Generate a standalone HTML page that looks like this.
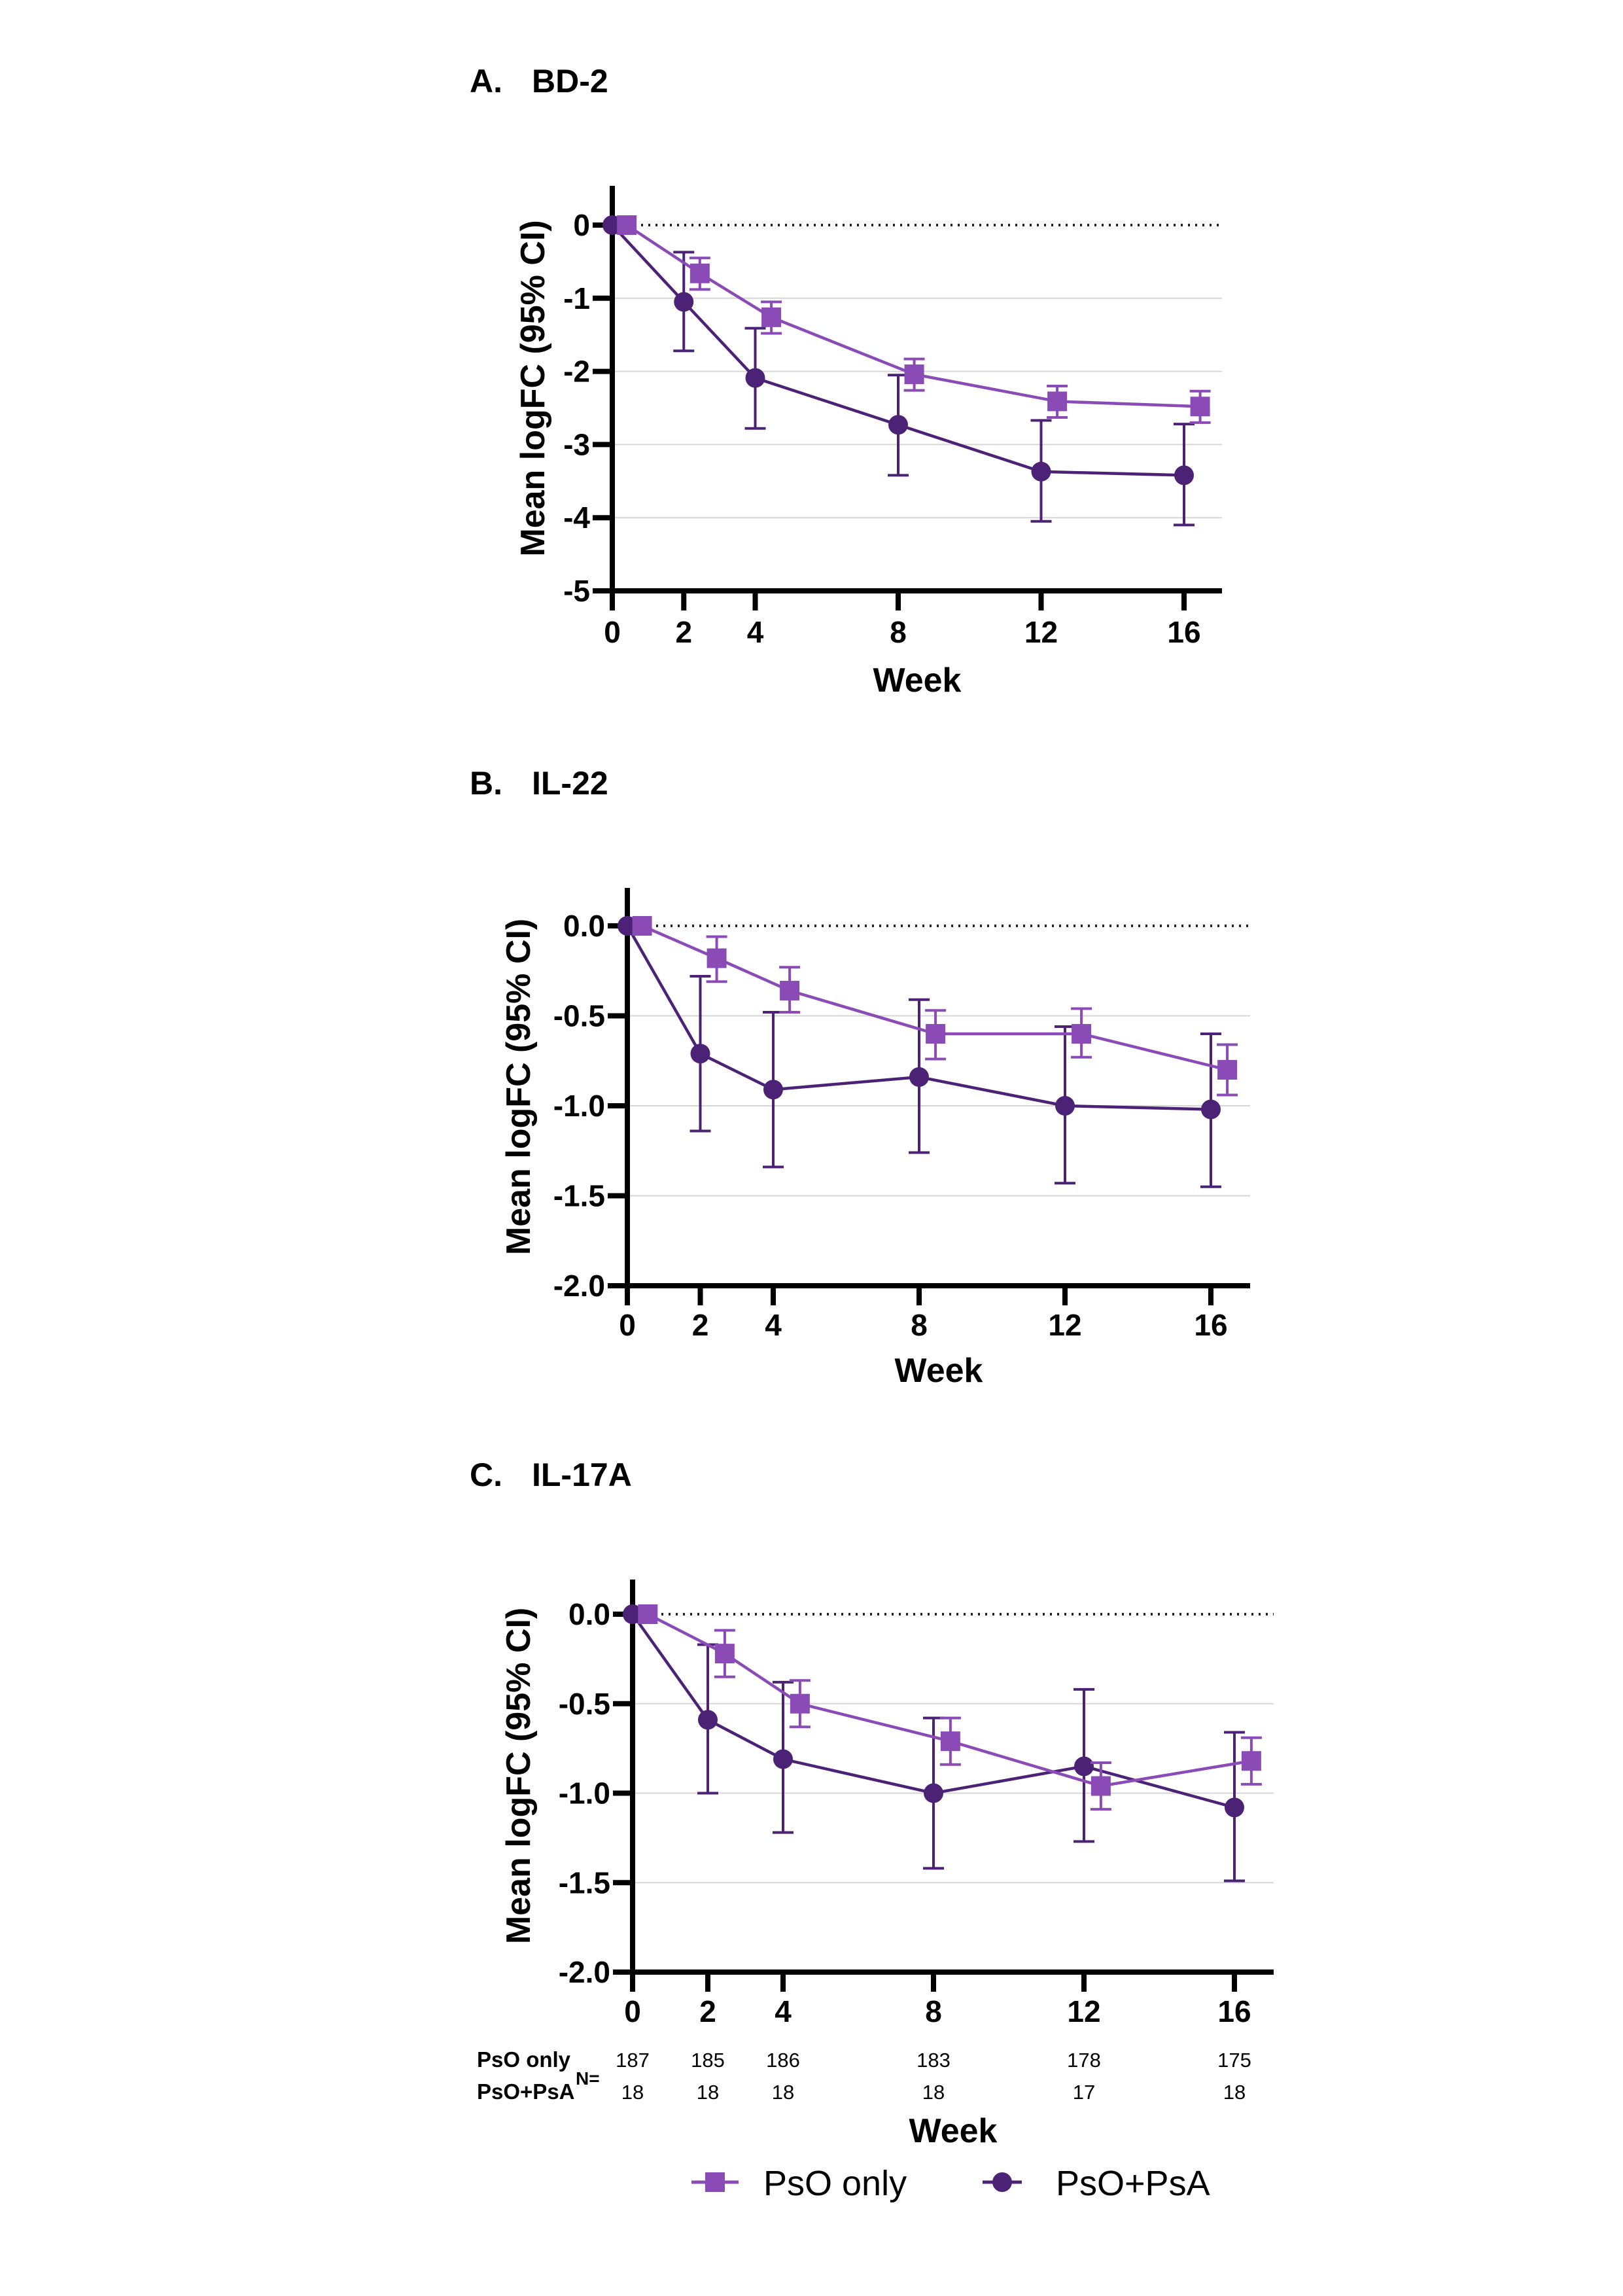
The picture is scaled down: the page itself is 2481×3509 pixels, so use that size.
<!DOCTYPE html>
<html><head><meta charset="utf-8"><style>
html,body{margin:0;padding:0;background:#fff;}
svg{display:block;font-family:"Liberation Sans",Arial,sans-serif;}
</style></head><body>
<svg id="fig" width="2481" height="3509" viewBox="0 0 2481 3509" xmlns="http://www.w3.org/2000/svg">
<rect width="2481" height="3509" fill="#fff"/>
</svg>
<script>
const weeks = [0, 2, 4, 8, 12, 16];
const xTickLabels = ["0","2","4","8","12","16"];
// Panel A: BD-2
const aPsoMean = [0, -0.66, -1.26, -2.04, -2.41, -2.48];
const aPsoLo = [0, -0.88, -1.48, -2.26, -2.63, -2.70];
const aPsoHi = [0, -0.45, -1.05, -1.83, -2.20, -2.27];
const aPsaMean = [0, -1.05, -2.09, -2.73, -3.37, -3.42];
const aPsaLo = [0, -1.72, -2.78, -3.42, -4.05, -4.10];
const aPsaHi = [0, -0.37, -1.41, -2.05, -2.67, -2.72];
const aYTicks = [0, -1, -2, -3, -4, -5];
const aYLabels = ["0","-1","-2","-3","-4","-5"];
// Panel B: IL-22
const bPsoMean = [0, -0.18, -0.36, -0.60, -0.60, -0.80];
const bPsoLo = [0, -0.31, -0.48, -0.74, -0.73, -0.94];
const bPsoHi = [0, -0.06, -0.23, -0.47, -0.46, -0.66];
const bPsaMean = [0, -0.71, -0.91, -0.84, -1.00, -1.02];
const bPsaLo = [0, -1.14, -1.34, -1.26, -1.43, -1.45];
const bPsaHi = [0, -0.28, -0.48, -0.41, -0.56, -0.60];
const bYTicks = [0, -0.5, -1, -1.5, -2];
const bYLabels = ["0.0","-0.5","-1.0","-1.5","-2.0"];
// Panel C: IL-17A
const cPsoMean = [0, -0.22, -0.50, -0.71, -0.96, -0.82];
const cPsoLo = [0, -0.35, -0.63, -0.84, -1.09, -0.95];
const cPsoHi = [0, -0.09, -0.37, -0.58, -0.83, -0.69];
const cPsaMean = [0, -0.59, -0.81, -1.00, -0.85, -1.08];
const cPsaLo = [0, -1.00, -1.22, -1.42, -1.27, -1.49];
const cPsaHi = [0, -0.17, -0.38, -0.58, -0.42, -0.66];
const cYTicks = [0, -0.5, -1, -1.5, -2];
const cYLabels = ["0.0","-0.5","-1.0","-1.5","-2.0"];
const nPso = ["187","185","186","183","178","175"];
const nPsa = ["18","18","18","18","17","18"];

const PSO = "#8a4bb6", PSA = "#4b2276";
const NS = "http://www.w3.org/2000/svg";
const svg = document.getElementById("fig");
function mk(tag, attrs, parent, text) {
  const e = document.createElementNS(NS, tag);
  for (const k in attrs) e.setAttribute(k, attrs[k]);
  if (text !== undefined) e.textContent = text;
  (parent || svg).appendChild(e);
  return e;
}

function panel(cfg) {
  const g = mk("g", {});
  
  
  const X = w => cfg.x0 + (w / 16) * (cfg.x16 - cfg.x0);
  const Y = v => cfg.y0 + (v - cfg.ymax) / (cfg.ymin - cfg.ymax) * (cfg.yMinPx - cfg.y0);
  const t1 = mk("text", {x: cfg.titleX, y: cfg.titleY, "font-size": 50, "font-weight": "bold"}, g, cfg.letter);
  
  
  const t2 = mk("text", {x: cfg.titleX + 95, y: cfg.titleY, "font-size": 50, "font-weight": "bold"}, g, cfg.title);
  
  
  cfg.yTicks.forEach((v, i) => {
    if (v === 0 || v === cfg.ymin) return;
    const l = mk("line", {x1: X(0), x2: cfg.xRight, y1: Y(v), y2: Y(v), stroke: "#d6d6d6", "stroke-width": 2}, g);
    
    
  });
  const z = mk("line", {x1: X(0), x2: cfg.xRight, y1: Y(0), y2: Y(0), stroke: "#222", "stroke-width": 4, "stroke-dasharray": "3 8"}, g);
  
  
  const ya = mk("line", {x1: X(0), x2: X(0), y1: cfg.axisTop, y2: Y(cfg.ymin) + 4, stroke: "#000", "stroke-width": 8}, g);
  
  
  const xa = mk("line", {x1: X(0) - 30, x2: cfg.xRight, y1: Y(cfg.ymin), y2: Y(cfg.ymin), stroke: "#000", "stroke-width": 8}, g);
  
  
  cfg.yTicks.forEach((v, i) => {
    const tk = mk("line", {x1: X(0) - 30, x2: X(0), y1: Y(v), y2: Y(v), stroke: "#000", "stroke-width": 8}, g);
    
    
    const tl = mk("text", {x: X(0) - 34, y: Y(v) + 16, "font-size": 46, "font-weight": "bold", "text-anchor": "end"}, g, cfg.yLabels[i]);
    
    
  });
  weeks.forEach((w, i) => {
    const tk = mk("line", {x1: X(w), x2: X(w), y1: Y(cfg.ymin), y2: Y(cfg.ymin) + 30, stroke: "#000", "stroke-width": 8}, g);
    
    
    const tl = mk("text", {x: X(w), y: cfg.tickLabelY + 16, "font-size": 46, "font-weight": "bold", "text-anchor": "middle"}, g, xTickLabels[i]);
    
    
  });
  const yl = mk("text", {x: 0, y: 0, "font-size": 52, "font-weight": "bold", "text-anchor": "middle", transform: `translate(${cfg.yLabelX},${(cfg.axisTop + Y(cfg.ymin)) / 2}) rotate(-90)`}, g, "Mean logFC (95% CI)");
  
  
  const wl = mk("text", {x: (X(0) + cfg.xRight) / 2 + 0, y: cfg.weekY + 18, "font-size": 52, "font-weight": "bold", "text-anchor": "middle"}, g, "Week");
  
  

  function series(mean, lo, hi, off, color, shape, nm) {
    const sg = mk("g", {}, g);
    
    
    const pts = weeks.map((w, i) => X(w + (i === 0 ? off * 0.9 : off)) + "," + Y(mean[i])).join(" ");
    const pl = mk("polyline", {points: pts, fill: "none", stroke: color, "stroke-width": 4.5}, sg);
    
    
    weeks.forEach((w, i) => {
      const cx = X(w + (i === 0 ? off * 0.9 : off)), cy = Y(mean[i]);
      if (i > 0) {
        const eb = mk("path", {d: `M${cx},${Y(hi[i])}V${Y(lo[i])}M${cx - 16},${Y(hi[i])}H${cx + 16}M${cx - 16},${Y(lo[i])}H${cx + 16}`, stroke: color, "stroke-width": 4, fill: "none"}, sg);
        
        
      }
      let m;
      if (shape === "sq") m = mk("rect", {x: cx - 15, y: cy - 15, width: 30, height: 30, fill: color}, sg);
      else m = mk("circle", {cx: cx, cy: cy, r: 15, fill: color}, sg);
      
      
    });
  }
  series(cfg.psa[0], cfg.psa[1], cfg.psa[2], 0, PSA, "ci", "pso-psa-series");
  series(cfg.pso[0], cfg.pso[1], cfg.pso[2], 0.45, PSO, "sq", "pso-only-series");
  return {X, Y, g};
}

panel({name: "panel-a-bd2", letter: "A.", title: "BD-2", titleX: 718, titleY: 141,
  x0: 936, x16: 1810, xRight: 1868, y0: 344, yMinPx: 903, ymax: 0, ymin: -5, axisTop: 284,
  yTicks: aYTicks, yLabels: aYLabels, tickLabelY: 966, weekY: 1039, yLabelX: 832,
  pso: [aPsoMean, aPsoLo, aPsoHi], psa: [aPsaMean, aPsaLo, aPsaHi]});
panel({name: "panel-b-il22", letter: "B.", title: "IL-22", titleX: 718, titleY: 1214,
  x0: 959, x16: 1851, xRight: 1911, y0: 1415, yMinPx: 1965, ymax: 0, ymin: -2, axisTop: 1357,
  yTicks: bYTicks, yLabels: bYLabels, tickLabelY: 2025, weekY: 2094, yLabelX: 810,
  pso: [bPsoMean, bPsoLo, bPsoHi], psa: [bPsaMean, bPsaLo, bPsaHi]});
const pc = panel({name: "panel-c-il17a", letter: "C.", title: "IL-17A", titleX: 718, titleY: 2271,
  x0: 967, x16: 1887, xRight: 1947, y0: 2467, yMinPx: 3014, ymax: 0, ymin: -2, axisTop: 2414,
  yTicks: cYTicks, yLabels: cYLabels, tickLabelY: 3074, weekY: 3256, yLabelX: 810,
  pso: [cPsoMean, cPsoLo, cPsoHi], psa: [cPsaMean, cPsaLo, cPsaHi]});

const nt = mk("g", {}, pc.g);


const r1 = mk("text", {x: 729, y: 3159, "font-size": 33, "font-weight": "bold"}, nt, "PsO only");


const r2 = mk("text", {x: 729, y: 3208, "font-size": 33, "font-weight": "bold"}, nt, "PsO+PsA");


const neq = mk("text", {x: 880, y: 3186, "font-size": 28, "font-weight": "bold"}, nt, "N=");


weeks.forEach((w, i) => {
  const a = mk("text", {x: pc.X(w), y: 3159, "font-size": 31, "text-anchor": "middle"}, nt, nPso[i]);
  
  
  const b = mk("text", {x: pc.X(w), y: 3208, "font-size": 31, "text-anchor": "middle"}, nt, nPsa[i]);
  
  
});

const lg = mk("g", {});


const le1 = mk("g", {}, lg);


mk("line", {x1: 1057, x2: 1129, y1: 3335, y2: 3335, stroke: PSO, "stroke-width": 5}, le1);
mk("rect", {x: 1078, y: 3320, width: 30, height: 30, fill: PSO}, le1);
mk("text", {x: 1167, y: 3355, "font-size": 54}, le1, "PsO only");
const le2 = mk("g", {}, lg);


mk("line", {x1: 1502, x2: 1562, y1: 3335, y2: 3335, stroke: PSA, "stroke-width": 5}, le2);
mk("circle", {cx: 1532, cy: 3335, r: 15, fill: PSA}, le2);
mk("text", {x: 1614, y: 3355, "font-size": 54}, le2, "PsO+PsA");
</script>
</body></html>
